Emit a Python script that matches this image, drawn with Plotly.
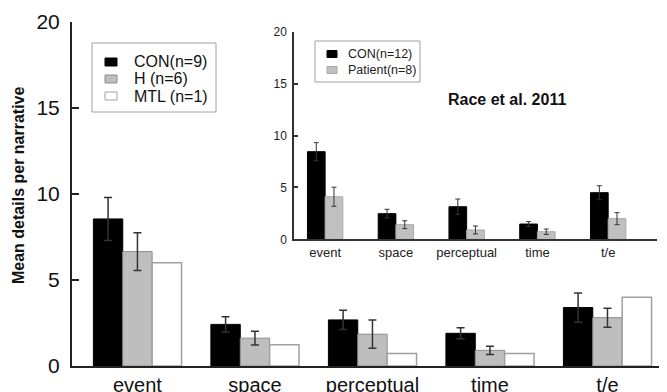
import plotly.graph_objects as go

categories = ["event", "space", "perceptual", "time", "t/e"]

# Main study
con_main = [8.55, 2.42, 2.68, 1.90, 3.40]
con_main_err = [1.25, 0.44, 0.56, 0.32, 0.85]
h_main = [6.65, 1.62, 1.85, 0.91, 2.81]
h_main_err = [1.10, 0.40, 0.82, 0.24, 0.55]
mtl_main = [6.0, 1.23, 0.73, 0.73, 4.0]
main_labels = ["CON(n=9)", "H (n=6)", "MTL (n=1)"]

# Inset: Race et al. 2011
con_race = [8.44, 2.47, 3.14, 1.47, 4.49]
con_race_err = [0.87, 0.42, 0.74, 0.23, 0.67]
pat_race = [4.10, 1.41, 0.90, 0.73, 1.99]
pat_race_err = [0.92, 0.38, 0.38, 0.26, 0.58]
race_labels = ["CON(n=12)", "Patient(n=8)"]

y_ticks = [0, 5, 10, 15, 20]

FONT = "Liberation Sans, Arial, sans-serif"
ERR = "#333333"

# page has an 8px body margin; plot area spans screen x 72..662, y 22..366
OFF = 8
L, T, PW, PH = 72, 22, 590, 344


def px(xs):
    return (xs - L) / PW


def py(ys):
    return (T + PH - ys) / PH


main_styles = [
    dict(color="#000000", line=dict(color="#000000", width=1)),
    dict(color="#bebebe", line=dict(color="#8e8e8e", width=1)),
    dict(color="#ffffff", line=dict(color="#a0a0a0", width=1.5)),
]
race_styles = [
    dict(color="#000000", line=dict(color="#000000", width=1)),
    dict(color="#c0c0c0", line=dict(color="#a8a8a8", width=1)),
]

fig = go.Figure()

fig.add_trace(go.Bar(
    x=categories, y=con_main, name=main_labels[0], width=0.25, offset=-0.375,
    marker=main_styles[0],
    error_y=dict(type="data", array=con_main_err, color=ERR, thickness=1.5, width=4),
    xaxis="x", yaxis="y"))
fig.add_trace(go.Bar(
    x=categories, y=h_main, name=main_labels[1], width=0.25, offset=-0.125,
    marker=main_styles[1],
    error_y=dict(type="data", array=h_main_err, color=ERR, thickness=1.5, width=4),
    xaxis="x", yaxis="y"))
fig.add_trace(go.Bar(
    x=categories, y=mtl_main, name=main_labels[2], width=0.25, offset=0.125,
    marker=main_styles[2], xaxis="x", yaxis="y"))

fig.add_trace(go.Bar(
    x=categories, y=con_race, name=race_labels[0], width=0.25, offset=-0.25,
    marker=race_styles[0],
    error_y=dict(type="data", array=con_race_err, color=ERR, thickness=1, width=2.5),
    xaxis="x2", yaxis="y2"))
fig.add_trace(go.Bar(
    x=categories, y=pat_race, name=race_labels[1], width=0.25, offset=0.0,
    marker=race_styles[1],
    error_y=dict(type="data", array=pat_race_err, color=ERR, thickness=1, width=2.5),
    xaxis="x2", yaxis="y2"))

shapes = []
annotations = []

# Main legend (drawn by hand to match the compact spacing)
shapes.append(dict(type="rect", xref="paper", yref="paper",
                   x0=px(92), x1=px(216), y0=py(112), y1=py(43),
                   line=dict(color="#a0a0a0", width=1), fillcolor="white", layer="above"))
for i, (lab, st) in enumerate(zip(main_labels, main_styles)):
    yc = 62 + 17 * i
    shapes.append(dict(type="rect", xref="paper", yref="paper",
                       x0=px(105), x1=px(117), y0=py(yc + 4), y1=py(yc - 4),
                       fillcolor=st["color"], line=dict(color=st["line"]["color"], width=1),
                       layer="above"))
    annotations.append(dict(text=lab, xref="paper", yref="paper", x=px(132), y=py(yc),
                            xanchor="left", yanchor="middle", showarrow=False,
                            font=dict(size=16, color="#111111")))

# Inset legend
shapes.append(dict(type="rect", xref="paper", yref="paper",
                   x0=px(315), x1=px(420), y0=py(82), y1=py(41),
                   line=dict(color="#a0a0a0", width=1), fillcolor="white", layer="above"))
for i, (lab, st) in enumerate(zip(race_labels, race_styles)):
    yc = 54 + 16 * i
    shapes.append(dict(type="rect", xref="paper", yref="paper",
                       x0=px(327), x1=px(337), y0=py(yc + 3.5), y1=py(yc - 3.5),
                       fillcolor=st["color"], line=dict(color=st["line"]["color"], width=1),
                       layer="above"))
    annotations.append(dict(text=lab, xref="paper", yref="paper", x=px(346), y=py(yc),
                            xanchor="left", yanchor="middle", showarrow=False,
                            font=dict(size=12.5, color="#222222")))

annotations.append(dict(text="<b>Race et al. 2011</b>", xref="paper", yref="paper",
                        x=px(507), y=py(100), xanchor="center", yanchor="middle",
                        showarrow=False, font=dict(size=16, color="#111111")))
annotations.append(dict(text="<b>Mean details per narrative</b>", xref="paper", yref="paper",
                        x=px(19), y=py(185), xanchor="center", yanchor="middle",
                        textangle=-90, showarrow=False, font=dict(size=16, color="#111111")))

fig.update_layout(
    width=667 - OFF, height=392 - OFF,
    margin=dict(l=L - OFF, r=667 - L - PW, t=T - OFF, b=392 - T - PH),
    paper_bgcolor="white", plot_bgcolor="rgba(0,0,0,0)",
    barmode="overlay", showlegend=False,
    font=dict(family=FONT, color="#111111"),
    xaxis=dict(domain=[0, 1], range=[-0.557, 4.464], showline=True, linecolor="#222222",
               linewidth=2, ticks="", showgrid=False, zeroline=False,
               tickfont=dict(size=20, color="#111111"), automargin=False),
    yaxis=dict(domain=[0, 1], range=[0, 20], tickvals=y_ticks, showline=True,
               linecolor="#222222", linewidth=2, ticks="inside", ticklen=7, tickwidth=2,
               tickcolor="#222222", showgrid=False, zeroline=False,
               tickfont=dict(size=21, color="#111111"), ticklabelstandoff=6,
               automargin=False),
    xaxis2=dict(domain=[px(294), px(657)], range=[-0.44, 4.69], anchor="y2",
                showline=True, linecolor="#333333", linewidth=1.5, ticks="",
                showgrid=False, zeroline=False, tickfont=dict(size=13, color="#222222"),
                automargin=False),
    yaxis2=dict(domain=[py(239.3), py(31.7)], range=[0, 20], tickvals=y_ticks, anchor="x2",
                showline=True, linecolor="#333333", linewidth=1.5, ticks="inside",
                ticklen=4, tickwidth=1.5, tickcolor="#333333", showgrid=False,
                zeroline=False, tickfont=dict(size=12, color="#222222"),
                ticklabelstandoff=3, automargin=False),
    shapes=shapes,
    annotations=annotations,
)

fig.write_html("out.html")
